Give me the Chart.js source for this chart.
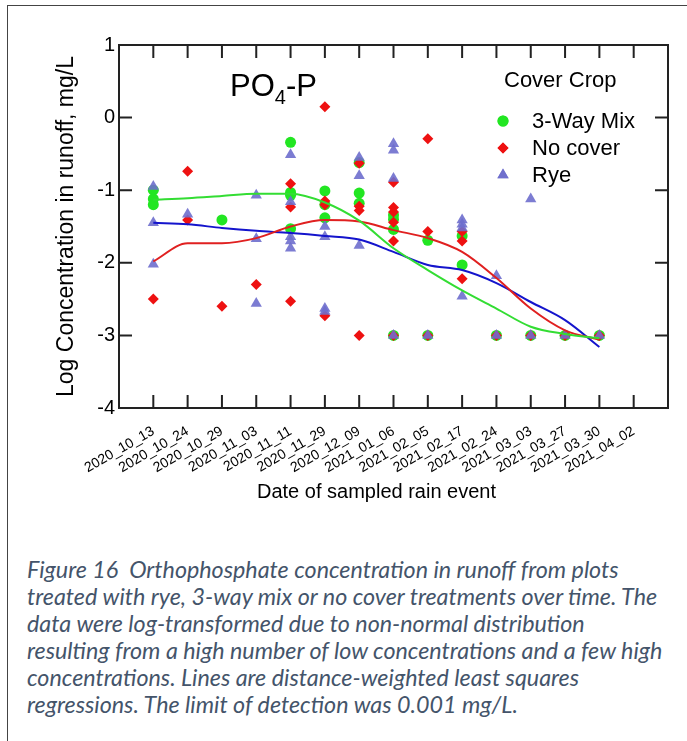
<!DOCTYPE html>
<html>
<head>
<meta charset="utf-8">
<script src="https://cdn.jsdelivr.net/npm/chart.js@4.4.1/dist/chart.umd.min.js"></script>
<style>
  html, body { margin: 0; padding: 0; background: #fff; }
  #frame { position: absolute; left: 7px; top: 5px; width: 690px; height: 750px;
           border-top: 1px solid #444; border-left: 1px solid #444; }
  #wrap { position: absolute; left: 0; top: 0; width: 687px; height: 520px; }
  #caption { position: absolute; left: 27px; top: 556px; margin: 0;
             font-family: Lato, "Open Sans", sans-serif; font-style: italic;
             font-size: 23.3px; line-height: 27px; color: #44546a; white-space: pre; }
</style>
</head>
<body>
<div id="frame"></div>
<div id="wrap"><canvas id="myChart" width="687" height="520"></canvas></div>
<p id="caption">Figure 16  Orthophosphate concentration in runoff from plots
treated with rye, 3-way mix or no cover treatments over time. The
data were log-transformed due to non-normal distribution
resulting from a high number of low concentrations and a few high
concentrations. Lines are distance-weighted least squares
regressions. The limit of detection was 0.001 mg/L.</p>
<script>
// sampling dates (x categories)
const dates = ['2020_10_13', '2020_10_24', '2020_10_29', '2020_11_03', '2020_11_11',
  '2020_11_29', '2020_12_09', '2021_01_06', '2021_02_05', '2021_02_17',
  '2021_02_24', '2021_03_03', '2021_03_27', '2021_03_30', '2021_04_02'];

const yTicks = [1, 0, -1, -2, -3, -4];

// log concentrations per date, one list per date
const mixValues = [
  [-1.0, -1.12, -1.2], [], [-1.41], [], [-0.34, -1.03, -1.07, -1.53],
  [-1.01, -1.2, -1.38], [-0.62, -1.04, -1.18], [-1.34, -1.4, -1.54, -3.0], [-1.69, -3.0], [-1.63, -2.03],
  [-3.0], [-3.0], [-3.0], [-3.0], []
];
const noCoverValues = [
  [-2.5], [-0.74, -1.41], [-2.6], [-2.3], [-0.91, -1.23, -2.53],
  [0.15, -1.15, -1.2, -2.73], [-0.63, -1.22, -1.28, -3.0], [-0.89, -1.24, -1.3, -1.44, -1.7, -3.0], [-0.29, -1.57, -3.0], [-1.57, -1.7, -2.22],
  [-3.0], [-3.0], [-3.0], [-3.0], []
];
const ryeValues = [
  [-0.95, -1.45, -2.02], [-1.33], [], [-1.07, -1.67, -2.56], [-0.51, -1.16, -1.64, -1.7, -1.8],
  [-1.5, -1.64, -2.63, -2.67], [-0.55, -0.8, -1.76], [-0.36, -0.45, -0.84, -3.0], [-3.0], [-1.41, -1.47, -1.52, -2.46],
  [-2.18, -3.0], [-1.12, -3.0], [-3.0], [-3.0], []
];

// DWLS fit curves, value at each date index 0..13
const mixFit = [-1.13, -1.11, -1.08, -1.05, -1.05, -1.17, -1.42, -1.8, -2.1, -2.38, -2.63, -2.88, -2.98, -3.04];
const noCoverFit = [-1.98, -1.73, -1.73, -1.66, -1.5, -1.41, -1.43, -1.55, -1.66, -1.85, -2.21, -2.63, -2.93, -3.06];
const ryeFit = [-1.45, -1.47, -1.52, -1.56, -1.59, -1.63, -1.68, -1.85, -2.03, -2.1, -2.28, -2.54, -2.79, -3.16];

const GREEN = '#22e622', RED = '#ee1111', RYE = 'rgba(110,110,205,0.9)';

function toPoints(lists) {
  return lists.flatMap((vals, i) => vals.map(v => ({ x: i, y: v })));
}
function fitPoints(vals) {
  return vals.map((v, i) => ({ x: i, y: v }));
}

const FONT = 'Liberation Sans, Arial, sans-serif';

const framePlugin = {
  id: 'framePlugin',
  afterDatasetsDraw(chart) {
    const ctx = chart.ctx;
    const a = chart.chartArea;
    const xs = chart.scales.x, ys = chart.scales.y;
    ctx.save();
    ctx.strokeStyle = '#222';
    ctx.lineWidth = 2;
    ctx.strokeRect(a.left, a.top, a.right - a.left, a.bottom - a.top);
    ctx.beginPath();
    dates.forEach((d, i) => {
      const px = xs.getPixelForValue(i);
      ctx.moveTo(px, a.bottom); ctx.lineTo(px, a.bottom - 13);
      ctx.moveTo(px, a.top); ctx.lineTo(px, a.top + 13);
    });
    yTicks.forEach(v => {
      const py = ys.getPixelForValue(v);
      ctx.moveTo(a.left, py); ctx.lineTo(a.left + 13, py);
      ctx.moveTo(a.right, py); ctx.lineTo(a.right - 13, py);
    });
    ctx.stroke();

    // panel title PO4-P
    ctx.fillStyle = '#000';
    ctx.textBaseline = 'alphabetic';
    ctx.textAlign = 'left';
    let tx = a.left + 111;
    const ty = a.top + 51;
    ctx.font = '31px ' + FONT;
    ctx.fillText('PO', tx, ty);
    tx += ctx.measureText('PO').width;
    ctx.font = '20px ' + FONT;
    ctx.fillText('4', tx, ty + 8);
    tx += ctx.measureText('4').width;
    ctx.font = '31px ' + FONT;
    ctx.fillText('-P', tx, ty);

    // legend
    const lx = a.right - 165;
    ctx.font = '22px ' + FONT;
    ctx.textBaseline = 'middle';
    ctx.fillText('Cover Crop', lx + 1, a.top + 36);
    const items = [['3-Way Mix', GREEN, 'circle', 5.5], ['No cover', RED, 'rectRot', 5.5], ['Rye', RYE, 'triangle', 6.5]];
    items.forEach((it, k) => {
      const cy = a.top + 76 + k * 27;
      ctx.fillStyle = it[1];
      ctx.strokeStyle = it[1];
      Chart.helpers.drawPoint(ctx, { pointStyle: it[2], radius: it[3], borderWidth: 0 }, lx, cy);
      ctx.fill();
      ctx.fillStyle = '#000';
      ctx.fillText(it[0], lx + 29, cy + 1);
    });

    // x axis title
    ctx.font = '20px ' + FONT;
    ctx.textAlign = 'center';
    ctx.fillText('Date of sampled rain event', (a.left + a.right) / 2 - 17, a.bottom + 84);
    ctx.restore();
  }
};

const ctx = document.getElementById('myChart').getContext('2d');
new Chart(ctx, {
  type: 'scatter',
  data: {
    datasets: [
      { label: 'mixFit', data: fitPoints(mixFit), showLine: true, borderColor: '#33dd33', borderWidth: 2,
        pointRadius: 0, cubicInterpolationMode: 'monotone', order: 0 },
      { label: 'noCoverFit', data: fitPoints(noCoverFit), showLine: true, borderColor: '#e02020', borderWidth: 2,
        pointRadius: 0, cubicInterpolationMode: 'monotone', order: 0 },
      { label: 'ryeFit', data: fitPoints(ryeFit), showLine: true, borderColor: '#1414cc', borderWidth: 2,
        pointRadius: 0, cubicInterpolationMode: 'monotone', order: 0 },
      { label: 'Rye', data: toPoints(ryeValues), pointStyle: 'triangle', pointRadius: 6.5,
        backgroundColor: RYE, borderWidth: 0, order: 1 },
      { label: 'No cover', data: toPoints(noCoverValues), pointStyle: 'rectRot', pointRadius: 5.5,
        backgroundColor: RED, borderWidth: 0, order: 2 },
      { label: '3-Way Mix', data: toPoints(mixValues), pointStyle: 'circle', pointRadius: 5.5,
        backgroundColor: GREEN, borderWidth: 0, order: 3 }
    ]
  },
  options: {
    responsive: false,
    animation: false,
    layout: { padding: { top: 45, right: 19, left: 0, bottom: 0 } },
    scales: {
      x: {
        type: 'linear',
        min: -1,
        max: 15,
        grid: { display: false },
        border: { display: false },
        afterBuildTicks: scale => { scale.ticks = dates.map((d, i) => ({ value: i })); },
        afterFit: scale => { scale.height = 112; },
        ticks: {
          autoSkip: false,
          minRotation: 30,
          maxRotation: 30,
          padding: 7,
          color: '#000',
          font: { family: FONT, size: 14 },
          callback: v => dates[v]
        }
      },
      y: {
        min: -4,
        max: 1,
        grid: { display: false, drawTicks: false },
        border: { display: false },
        afterBuildTicks: scale => { scale.ticks = yTicks.map(v => ({ value: v })); },
        afterFit: scale => { scale.width = 119; },
        ticks: { padding: 4, color: '#000', font: { family: FONT, size: 20 } },
        title: {
          display: true,
          text: 'Log Concentration in runoff, mg/L',
          color: '#000',
          font: { family: FONT, size: 23 },
          padding: { top: 53, bottom: 0 }
        }
      }
    },
    plugins: {
      legend: { display: false },
      tooltip: { enabled: false }
    }
  },
  plugins: [framePlugin]
});
</script>
</body>
</html>
